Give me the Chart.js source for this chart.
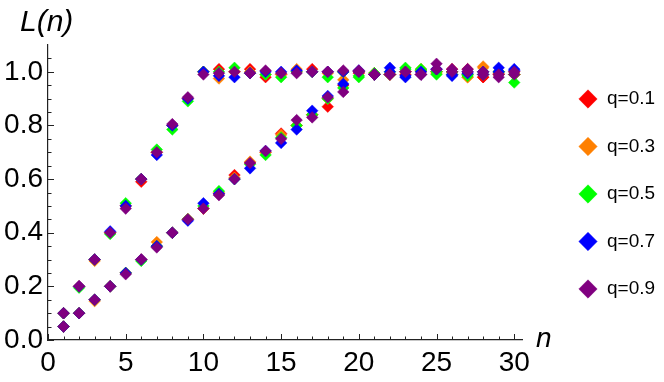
<!DOCTYPE html>
<html>
<head>
<meta charset="utf-8">
<script src="https://cdn.jsdelivr.net/npm/chart.js@4/dist/chart.umd.min.js"></script>
<style>
  html, body { margin: 0; padding: 0; background: #fff; }
  #wrap { width: 664px; height: 382px; position: relative; }
</style>
</head>
<body>
<div id="wrap"><canvas id="chart"></canvas></div>
<script>
const seriesLabels = ["q=0.1", "q=0.3", "q=0.5", "q=0.7", "q=0.9"];
const seriesColors = ["#ff0000", "#ff8000", "#00ff00", "#0000ff", "#800080"];

// n = 1..30, the branch that reaches 1 at n = 10
const fastRed = [0.10, 0.20, 0.30, 0.40, 0.50, 0.59, 0.70, 0.80, 0.90, 1.00, 1.01, 1.00, 1.01, 0.98, 0.99, 1.00, 1.01, 1.00, 1.00, 1.00, 0.99, 0.99, 1.00, 0.99, 1.00, 1.00, 1.01, 0.98, 0.99, 0.99];
const fastOrange = [0.10, 0.20, 0.295, 0.40, 0.50, 0.60, 0.70, 0.80, 0.90, 1.00, 0.975, 1.00, 1.00, 0.99, 0.99, 1.01, 1.00, 0.995, 1.00, 1.00, 0.99, 0.99, 1.00, 1.01, 1.00, 0.99, 0.98, 1.02, 0.99, 0.99];
const fastGreen = [0.10, 0.195, 0.30, 0.395, 0.51, 0.60, 0.71, 0.785, 0.89, 1.00, 1.00, 1.015, 0.995, 0.99, 0.98, 1.00, 1.00, 0.98, 1.00, 0.985, 0.99, 0.99, 1.01, 1.01, 0.99, 1.00, 0.99, 1.00, 1.00, 0.96];
const fastBlue = [0.10, 0.20, 0.30, 0.405, 0.50, 0.60, 0.69, 0.80, 0.90, 1.00, 0.985, 0.98, 0.995, 1.00, 1.00, 1.005, 1.00, 1.00, 1.00, 1.00, 0.99, 1.015, 0.98, 1.00, 1.01, 0.985, 1.00, 1.00, 1.015, 1.005];
const fastPurple = [0.10, 0.20, 0.30, 0.40, 0.49, 0.60, 0.70, 0.805, 0.905, 0.99, 0.995, 1.00, 0.995, 1.005, 0.995, 0.995, 1.00, 1.00, 1.005, 1.00, 0.99, 0.99, 1.00, 0.99, 1.03, 1.01, 1.01, 1.00, 0.98, 0.99];

// n = 1..30, the branch that reaches 1 at n = 20
const slowRed = [0.05, 0.10, 0.15, 0.20, 0.25, 0.30, 0.35, 0.40, 0.45, 0.49, 0.545, 0.615, 0.66, 0.70, 0.77, 0.80, 0.84, 0.87, 0.95, 0.995, 0.995, 0.99, 0.99, 1.00, 1.00, 1.01, 0.99, 0.98, 0.995, 1.00];
const slowOrange = [0.05, 0.10, 0.145, 0.20, 0.25, 0.30, 0.365, 0.40, 0.45, 0.49, 0.55, 0.605, 0.665, 0.70, 0.765, 0.80, 0.84, 0.90, 0.97, 1.00, 0.99, 0.99, 1.00, 1.005, 0.995, 1.00, 0.98, 1.015, 1.00, 0.99];
const slowGreen = [0.05, 0.10, 0.15, 0.20, 0.25, 0.295, 0.35, 0.40, 0.45, 0.50, 0.555, 0.60, 0.655, 0.69, 0.755, 0.80, 0.84, 0.90, 0.94, 0.98, 0.995, 1.00, 1.015, 1.005, 1.00, 0.99, 0.985, 0.99, 1.00, 0.99];
const slowBlue = [0.05, 0.10, 0.15, 0.20, 0.25, 0.30, 0.35, 0.40, 0.445, 0.51, 0.545, 0.60, 0.64, 0.705, 0.735, 0.785, 0.855, 0.91, 0.955, 1.005, 0.99, 1.00, 0.985, 0.99, 1.01, 0.99, 0.995, 0.99, 1.00, 1.01];
const slowPurple = [0.05, 0.10, 0.15, 0.20, 0.245, 0.30, 0.345, 0.40, 0.45, 0.49, 0.54, 0.60, 0.66, 0.705, 0.75, 0.82, 0.83, 0.905, 0.925, 1.005, 0.99, 0.99, 1.00, 0.99, 1.01, 1.00, 1.00, 0.99, 0.99, 1.00];

const fastSeries = [fastRed, fastOrange, fastGreen, fastBlue, fastPurple];
const slowSeries = [slowRed, slowOrange, slowGreen, slowBlue, slowPurple];

const xTickLabels = [0, 5, 10, 15, 20, 25, 30];
const yTickLabels = [0.0, 0.2, 0.4, 0.6, 0.8, 1.0];

const FONT = "'Liberation Sans', Arial, sans-serif";

function toPoints(values) {
  return values.map((y, index) => ({ x: index + 1, y }));
}

const datasets = seriesLabels.map((label, index) => ({
  label,
  data: toPoints(fastSeries[index]).concat(toPoints(slowSeries[index])),
  backgroundColor: seriesColors[index],
  borderColor: seriesColors[index],
  borderWidth: 0.5,
  pointStyle: "rectRot",
  pointRadius: 5.8,
  pointHoverRadius: 5.8,
  showLine: false,
  order: seriesLabels.length - index,
}));

const axisDecor = {
  id: "axisDecor",
  afterDraw(chart) {
    const { ctx, chartArea } = chart;
    const xScale = chart.scales.x;
    const yScale = chart.scales.y;
    ctx.save();
    ctx.strokeStyle = "#222";
    ctx.lineWidth = 1;

    for (let n = 0; n <= 30; n += 1) {
      const px = Math.round(xScale.getPixelForValue(n)) + 0.5;
      const len = n % 5 === 0 ? 6 : 3.5;
      ctx.beginPath();
      ctx.moveTo(px, chartArea.bottom);
      ctx.lineTo(px, chartArea.bottom - len);
      ctx.stroke();
    }

    for (let k = 0; k <= 21; k += 1) {
      const v = k * 0.05;
      const py = Math.round(yScale.getPixelForValue(v)) + 0.5;
      const len = k % 4 === 0 ? 6 : 3.5;
      ctx.beginPath();
      ctx.moveTo(chartArea.left, py);
      ctx.lineTo(chartArea.left + len, py);
      ctx.stroke();
    }

    ctx.fillStyle = "#000";
    ctx.textBaseline = "alphabetic";
    ctx.textAlign = "left";
    ctx.font = "italic 30px " + FONT;
    ctx.fillText("L(n)", 20, 31);
    ctx.font = "italic 28px " + FONT;
    ctx.fillText("n", chartArea.right + 14, 347);
    ctx.restore();
  },
};

new Chart(document.getElementById("chart"), {
  type: "scatter",
  data: { datasets },
  options: {
    responsive: true,
    maintainAspectRatio: false,
    animation: false,
    layout: { padding: { top: 45, right: 4, left: 0, bottom: 0 } },
    plugins: {
      tooltip: { enabled: false },
      legend: {
        position: "right",
        align: "start",
        title: { display: true, text: "", font: { size: 10 }, padding: 2 },
        labels: {
          usePointStyle: true,
          boxHeight: 13,
          padding: 28.5,
          color: "#000",
          font: { family: FONT, size: 19 },
          sort: (a, b) => a.datasetIndex - b.datasetIndex,
        },
      },
    },
    scales: {
      x: {
        type: "linear",
        min: 0,
        max: 30.5,
        afterFit: (scale) => { scale.height = 42; },
        afterBuildTicks: (scale) => {
          scale.ticks = xTickLabels.map((value) => ({ value }));
        },
        grid: { display: false, drawTicks: false },
        border: { display: true, color: "#222", width: 1.2 },
        ticks: {
          padding: 6,
          color: "#000",
          font: { family: FONT, size: 28 },
          maxRotation: 0,
          callback: (value) => String(value),
        },
      },
      y: {
        type: "linear",
        min: 0,
        max: 1.1,
        afterFit: (scale) => { scale.width = 48; },
        afterBuildTicks: (scale) => {
          scale.ticks = yTickLabels.map((value) => ({ value }));
        },
        grid: { display: false, drawTicks: false },
        border: { display: true, color: "#222", width: 1.2 },
        ticks: {
          padding: 5,
          color: "#000",
          font: { family: FONT, size: 28 },
          callback: (value) => value.toFixed(1),
        },
      },
      gap: {
        type: "linear",
        position: "right",
        display: true,
        afterFit: (scale) => { scale.width = 28; },
        grid: { display: false, drawTicks: false },
        border: { display: false },
        ticks: { display: false },
      },
    },
  },
  plugins: [axisDecor],
});
</script>
</body>
</html>
